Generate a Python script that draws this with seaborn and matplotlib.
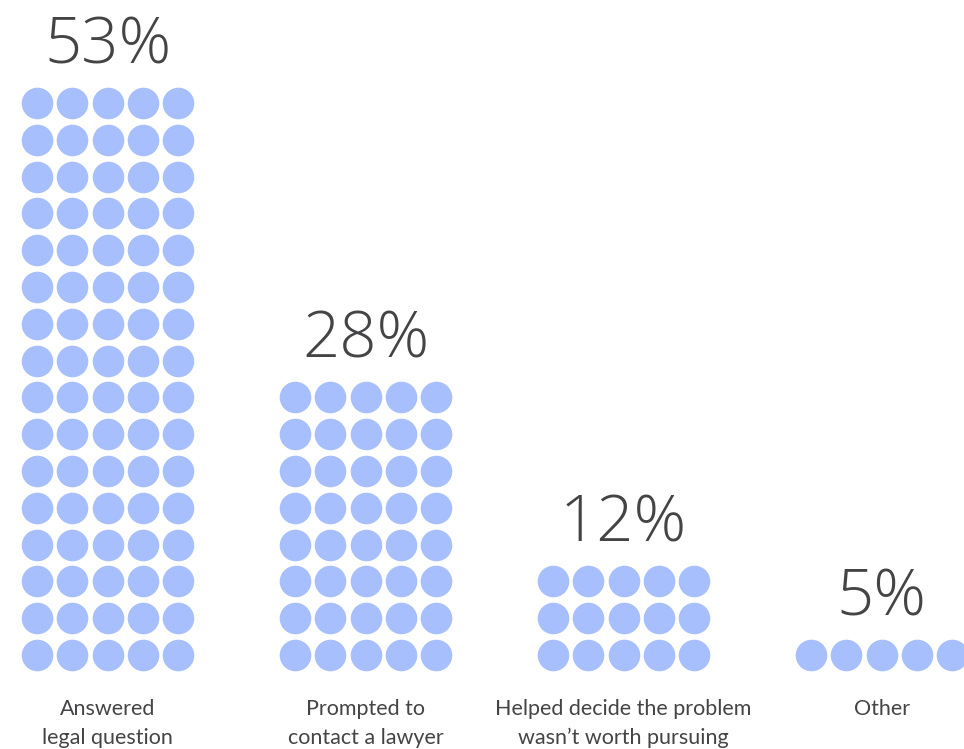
import matplotlib
matplotlib.use("Agg")
import matplotlib.pyplot as plt
import seaborn as sns
import pandas as pd

# Survey results: share of responses per outcome
categories = [
    "Answered\nlegal question",
    "Prompted to\ncontact a lawyer",
    "Helped decide the problem\nwasn\u2019t worth pursuing",
    "Other",
]
percents = [53, 28, 12, 5]
dot_rows = [16, 8, 3, 1]       # rows of five dots in each column
dots_per_row = 5

DOT_COLOR = "#a7bffc"
TEXT_COLOR = "#444446"

# Layout in pixel units (figure is 964 x 749 px)
col_pitch = 258.0
first_dot_x = 37.0
dot_dx = 35.3
bottom_row_y = 655.0
dot_dy = 36.8

records = []
for ci, (cat, n_rows) in enumerate(zip(categories, dot_rows)):
    for r in range(n_rows):
        for j in range(dots_per_row):
            records.append({
                "category": cat,
                "x": first_dot_x + ci * col_pitch + j * dot_dx,
                "y": bottom_row_y - r * dot_dy,
            })
df = pd.DataFrame(records)

sns.set_theme(style="white")
plt.rcParams["font.family"] = ["Lato", "DejaVu Sans"]

fig = plt.figure(figsize=(9.64, 7.49), dpi=100)
ax = fig.add_axes([0, 0, 1, 1])
ax.set_xlim(0, 964)
ax.set_ylim(749, 0)

dot_diam_pt = 31.6 * 72 / 100
sns.scatterplot(data=df, x="x", y="y", s=dot_diam_pt ** 2, color=DOT_COLOR,
                linewidth=0, legend=False, ax=ax)

for ci, (cat, pct, n_rows) in enumerate(zip(categories, percents, dot_rows)):
    cx = first_dot_x + ci * col_pitch + 2 * dot_dx
    top_y = bottom_row_y - (n_rows - 1) * dot_dy
    ax.text(cx, top_y - 40, f"{pct}%", ha="center", va="baseline",
            fontsize=47, fontweight="light", color=TEXT_COLOR,
            family=["Open Sans", "DejaVu Sans"])
    ax.text(cx, 699, cat, ha="center", va="top", fontsize=15.5,
            color=TEXT_COLOR, linespacing=1.55)

ax.set_axis_off()
fig.savefig("out.png", dpi=100, facecolor="white")
